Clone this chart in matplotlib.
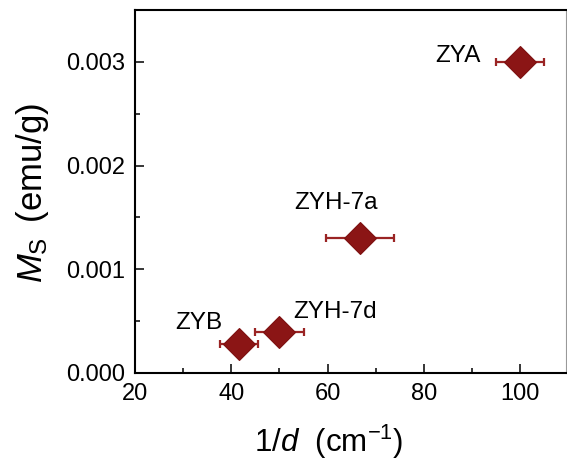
import numpy as np
import matplotlib
matplotlib.use("Agg")
import matplotlib.pyplot as plt
from matplotlib.ticker import MultipleLocator, FormatStrFormatter

plt.rcParams["font.family"] = ["Liberation Sans", "DejaVu Sans"]
plt.rcParams["mathtext.fontset"] = "custom"
plt.rcParams["mathtext.rm"] = "Liberation Sans"
plt.rcParams["mathtext.it"] = "Liberation Sans:italic"

# data
samples = ["ZYA", "ZYH-7a", "ZYH-7d", "ZYB"]
inv_d = [100, 66.7, 50, 41.6]
inv_d_err = [5, 7, 5, 4]
ms_vals = [0.0030, 0.0013, 0.00040, 0.00028]
label_x = [87.0, 61.7, 61.5, 33.2]
label_y = [0.00306, 0.00164, 0.000585, 0.00048]

fig = plt.figure(figsize=(5.67, 4.61), dpi=100)
ax = fig.add_axes([0.2381, 0.1909, 0.7601, 0.7874])

ax.errorbar(inv_d, ms_vals, xerr=inv_d_err, fmt="none", ecolor="#9a2424",
            elinewidth=1.6, capsize=3, capthick=1.6, zorder=2)
ax.plot(inv_d, ms_vals, "D", color="#8b1515", markersize=16.5,
        markeredgecolor="#7e1010", markeredgewidth=0.8, zorder=3)

for name, lx, ly in zip(samples, label_x, label_y):
    ax.text(lx, ly, name, fontsize=17.5, ha="center", va="center")

ax.set_xlim(20, 109.5)
ax.set_ylim(0, 0.0035)
ax.xaxis.set_major_locator(MultipleLocator(20))
ax.xaxis.set_minor_locator(MultipleLocator(10))
ax.yaxis.set_major_locator(MultipleLocator(0.001))
ax.yaxis.set_minor_locator(MultipleLocator(0.0005))
ax.yaxis.set_major_formatter(FormatStrFormatter("%.3f"))

ax.tick_params(which="both", direction="in", top=False, right=False,
               labelsize=17, width=1.1)
ax.tick_params(which="major", length=6.5, pad=7)
ax.tick_params(which="minor", length=3.5)

for side in ["left", "bottom", "top"]:
    ax.spines[side].set_linewidth(1.5)
ax.spines["right"].set_linewidth(0.8)
ax.spines["right"].set_color("#999999")

ax.set_xlabel(r"1/$\mathit{d}$  (cm$^{-1}$)", fontsize=22.5)
ax.set_ylabel(r"$\mathit{M}_{\mathrm{S}}\,$ (emu/g)", fontsize=25)
ax.xaxis.set_label_coords(0.45, -0.19)
ax.yaxis.set_label_coords(-0.238, 0.497)
ax.xaxis.label.set_va("center")
ax.yaxis.label.set_va("center")

fig.savefig("out.png", dpi=100)
